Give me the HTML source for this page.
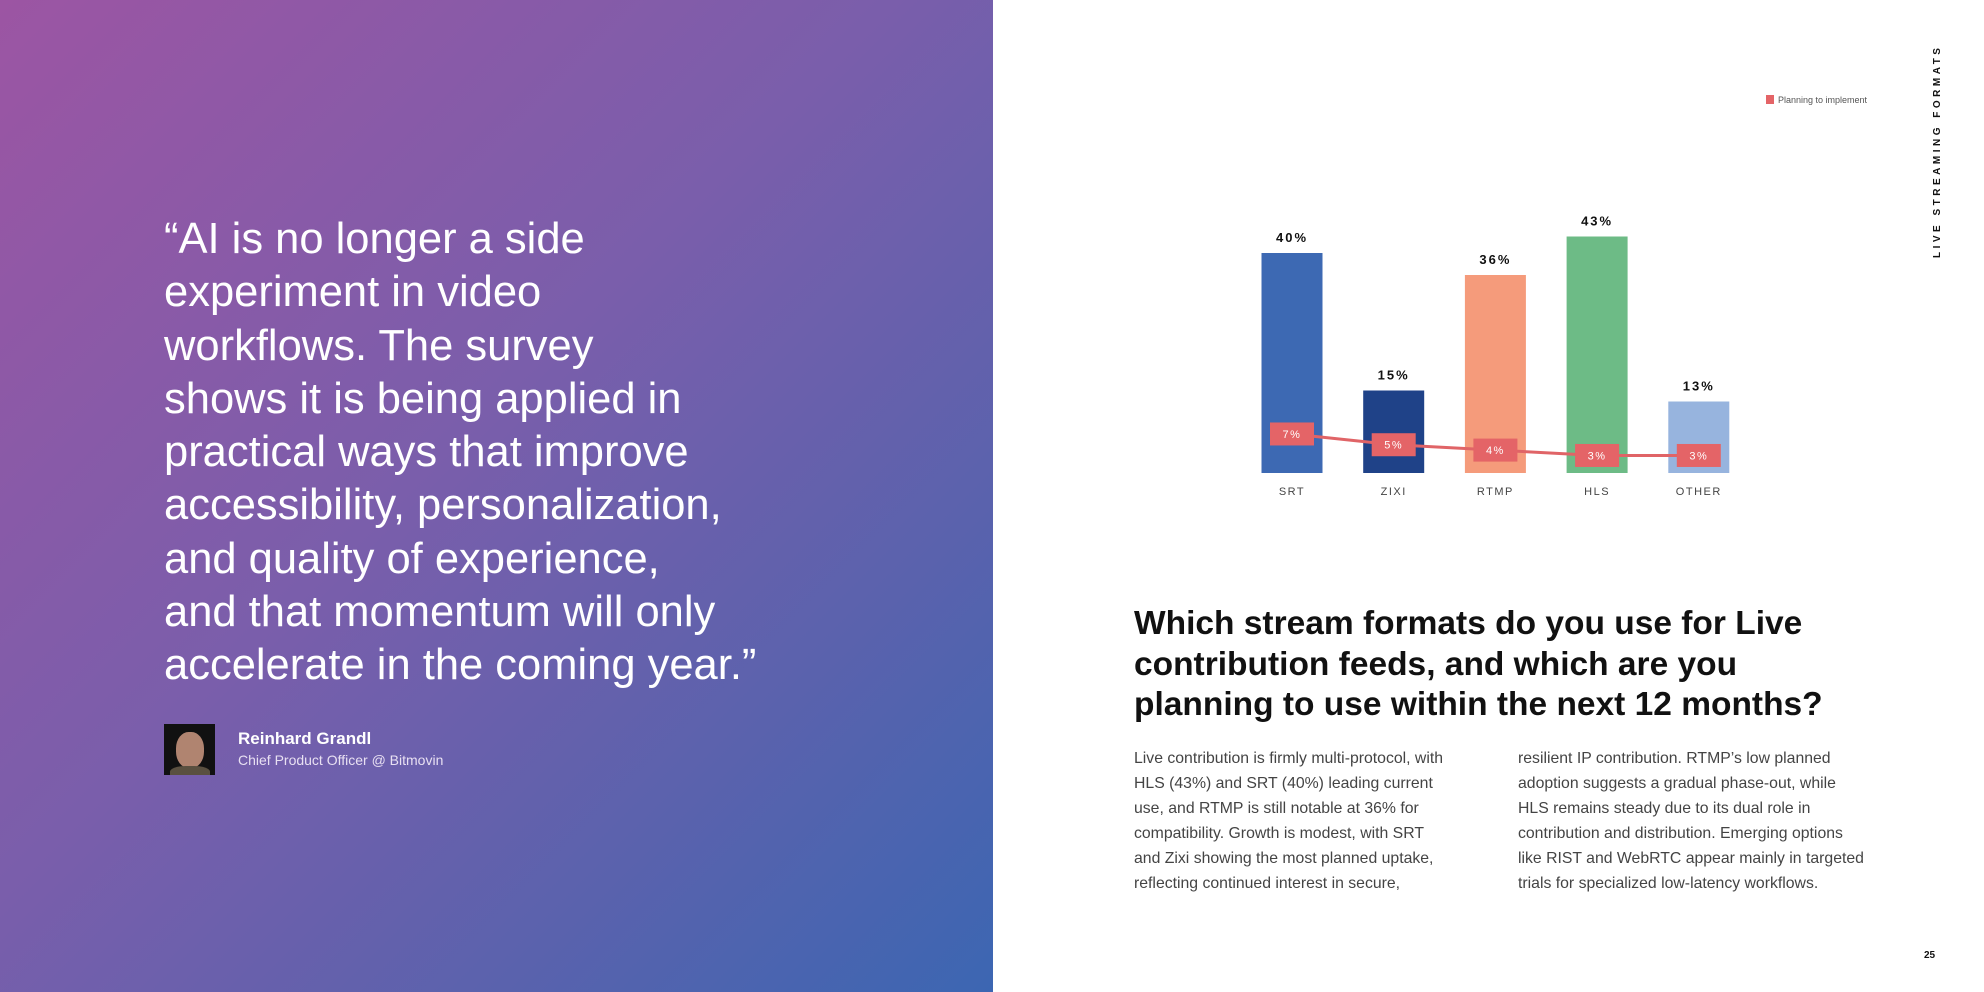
<!DOCTYPE html>
<html><head><meta charset="utf-8"><style>
*{margin:0;padding:0;box-sizing:border-box}
body{width:1984px;height:992px;position:relative;overflow:hidden;background:#fff;font-family:"Liberation Sans",sans-serif}
#left{position:absolute;left:0;top:0;width:993px;height:992px;background:linear-gradient(135deg,#9c55a3 0%,#7a5eab 45%,#5a62ad 75%,#3c66b2 100%)}
#quote{position:absolute;left:164px;top:213px;width:820px;color:#fff;font-size:43.5px;line-height:53.3px;white-space:nowrap}
.abs{position:absolute}
.body{font-size:15.8px;line-height:25px;color:#444;white-space:nowrap}
</style></head><body>
<div id="left">
<div id="quote">“AI is no longer a side<br>experiment in video<br>workflows. The survey<br>shows it is being applied in<br>practical ways that improve<br>accessibility, personalization,<br>and quality of experience,<br>and that momentum will only<br>accelerate in the coming year.”</div>
<div class="abs" style="left:164px;top:724px;width:51px;height:51px;background:#111;overflow:hidden">
<div style="position:absolute;left:12px;top:8px;width:28px;height:36px;border-radius:45%;background:#b08470"></div>
<div style="position:absolute;left:6px;top:42px;width:40px;height:14px;border-radius:40% 40% 0 0;background:#5a5040"></div></div>
<div class="abs" style="left:238px;top:729px;color:#fff;font-weight:bold;font-size:17px">Reinhard Grandl</div>
<div class="abs" style="left:238px;top:752px;color:#e8e0f2;font-size:14px">Chief Product Officer @ Bitmovin</div>
</div>
<svg id="chart" class="abs" style="left:0;top:0" width="1984" height="992"></svg>
<div class="abs" style="left:1932px;top:258px;width:0;height:0"><div style="position:absolute;left:0;top:0;transform:rotate(-90deg);transform-origin:0 0;white-space:nowrap;font-weight:bold;font-size:10px;letter-spacing:3.5px;color:#111;width:320px">LIVE STREAMING FORMATS</div></div>
<div class="abs" style="left:1134px;top:604px;width:780px;font-weight:bold;font-size:33.5px;line-height:40.5px;color:#111;white-space:nowrap">Which stream formats do you use for Live<br>contribution feeds, and which are you<br>planning to use within the next 12 months?</div>
<div class="abs body" style="left:1134px;top:746px">Live contribution is firmly multi-protocol, with<br>HLS (43%) and SRT (40%) leading current<br>use, and RTMP is still notable at 36% for<br>compatibility. Growth is modest, with SRT<br>and Zixi showing the most planned uptake,<br>reflecting continued interest in secure,</div>
<div class="abs body" style="left:1518px;top:746px">resilient IP contribution. RTMP’s low planned<br>adoption suggests a gradual phase-out, while<br>HLS remains steady due to its dual role in<br>contribution and distribution. Emerging options<br>like RIST and WebRTC appear mainly in targeted<br>trials for specialized low-latency workflows.</div>
<div class="abs" style="left:1924px;top:950px;font-weight:bold;font-size:10px;color:#111">25</div>
<script>
const categories=["SRT","ZIXI","RTMP","HLS","OTHER"];
const currentUse=[40,15,36,43,13];
const planned=[7,5,4,3,3];
const colors=["#3d69b3","#1f4288","#f59b7b","#6dbb86","#97b4de"];
const NS="http://www.w3.org/2000/svg";
const svg=document.getElementById('chart');
const x=i=>1292+i*101.7;
const yBar=v=>473-v*5.5;
const yLine=v=>471.6-v*5.375;
function mk(t,a){const e=document.createElementNS(NS,t);for(const k in a)e.setAttribute(k,a[k]);svg.appendChild(e);return e;}
categories.forEach((c,i)=>{
 const r=mk('rect',{x:x(i)-30.5,y:yBar(currentUse[i]),width:61,height:473-yBar(currentUse[i]),fill:colors[i]});
 
 
 const t=mk('text',{x:x(i),y:yBar(currentUse[i])-11,'text-anchor':'middle','font-size':13,'font-weight':'bold','letter-spacing':2,fill:'#111'});
 t.textContent=currentUse[i]+'%';
 
 
 const l=mk('text',{x:x(i),y:495,'text-anchor':'middle','font-size':11,'letter-spacing':1.5,fill:'#444'});
 l.textContent=c;
 
 
});
const pl=mk('polyline',{points:planned.map((v,i)=>x(i)+','+yLine(v)).join(' '),fill:'none',stroke:'#e06467','stroke-width':3});


planned.forEach((v,i)=>{
 const b=mk('rect',{x:x(i)-22,y:yLine(v)-11.5,width:44,height:23,fill:'#e46467'});
 
 
 const t=mk('text',{x:x(i),y:yLine(v)+4,'text-anchor':'middle','font-size':11,'letter-spacing':1.5,fill:'#fff'});
 t.textContent=v+'%';
 
 
});
const ls=mk('rect',{x:1766,y:95,width:8,height:9,fill:'#e46467'});


const lt=mk('text',{x:1778,y:103,'font-size':9,fill:'#555'});
lt.textContent='Planning to implement';


</script>
</body></html>
